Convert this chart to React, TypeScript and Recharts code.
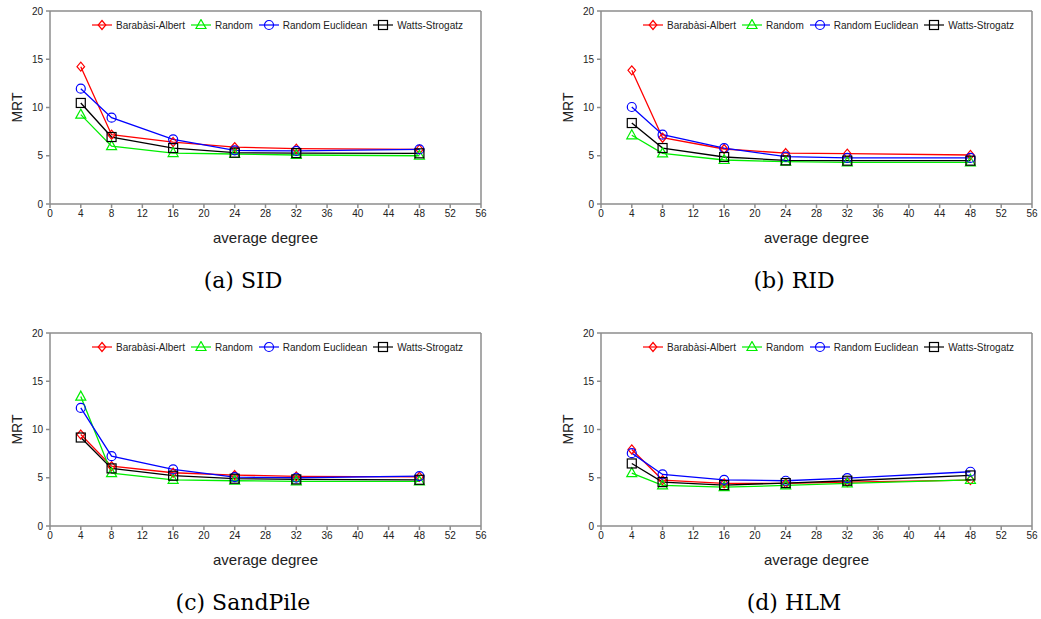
import React from "react";
import { LineChart, Line, XAxis, YAxis, ReferenceLine } from "recharts";

const degrees = [4, 8, 16, 24, 32, 48];
const xTicks = [0, 4, 8, 12, 16, 20, 24, 28, 32, 36, 40, 44, 48, 52, 56];
const yTicks = [0, 5, 10, 15, 20];

// (a) SID
const sidBarabasi = [14.23, 7.18, 6.42, 5.9, 5.73, 5.66];
const sidRandom = [9.26, 6.0, 5.28, 5.18, 5.08, 5.0];
const sidEuclid = [11.95, 8.95, 6.7, 5.56, 5.5, 5.66];
const sidWatts = [10.47, 6.94, 5.8, 5.32, 5.28, 5.25];

// (b) RID
const ridBarabasi = [13.85, 6.87, 5.7, 5.28, 5.22, 5.08];
const ridRandom = [7.12, 5.25, 4.56, 4.39, 4.32, 4.32];
const ridEuclid = [10.05, 7.18, 5.8, 4.9, 4.77, 4.77];
const ridWatts = [8.39, 5.8, 4.87, 4.52, 4.49, 4.49];

// (c) SandPile
const sandBarabasi = [9.48, 6.2, 5.52, 5.28, 5.14, 5.1];
const sandRandom = [13.41, 5.48, 4.79, 4.69, 4.62, 4.62];
const sandEuclid = [12.24, 7.24, 5.86, 5.07, 5.0, 5.17];
const sandWatts = [9.17, 5.97, 5.21, 4.9, 4.83, 4.79];

// (d) HLM
const hlmBarabasi = [7.93, 4.76, 4.41, 4.41, 4.55, 4.76];
const hlmRandom = [5.48, 4.2, 4.03, 4.2, 4.41, 4.79];
const hlmEuclid = [7.55, 5.34, 4.79, 4.69, 4.97, 5.62];
const hlmWatts = [6.48, 4.55, 4.24, 4.45, 4.69, 5.24];

const SANS = "'Liberation Sans', Arial, sans-serif";
const AXIS = "#8c8c8c";

const series = [
  { key: "ba", name: "Barabàsi-Albert", color: "#ff0000", shape: "diamond" },
  { key: "rnd", name: "Random", color: "#00ee00", shape: "triangle" },
  { key: "re", name: "Random Euclidean", color: "#0000ff", shape: "circle" },
  { key: "ws", name: "Watts-Strogatz", color: "#000000", shape: "square" },
];

function build(ba: number[], rnd: number[], re: number[], ws: number[]) {
  return degrees.map((d, i) => ({ deg: d, ba: ba[i], rnd: rnd[i], re: re[i], ws: ws[i] }));
}

function Marker({ shape, cx, cy, color }: { shape: string; cx: number; cy: number; color: string }) {
  const common = { fill: "none", stroke: color, strokeWidth: 1.2 };
  if (shape === "diamond")
    return <polygon points={`${cx},${cy - 4.5} ${cx + 3.8},${cy} ${cx},${cy + 4.5} ${cx - 3.8},${cy}`} {...common} />;
  if (shape === "triangle")
    return <polygon points={`${cx},${cy - 5.5} ${cx + 5},${cy + 3.5} ${cx - 5},${cy + 3.5}`} {...common} />;
  if (shape === "circle") return <circle cx={cx} cy={cy} r={4.5} {...common} />;
  return <rect x={cx - 4.5} y={cy - 4.5} width={9} height={9} {...common} />;
}

function LegendRow() {
  return (
    <div style={{ display: "flex", alignItems: "center", fontFamily: SANS, fontSize: 10, color: "#222" }}>
      {series.map((s) => (
        <div key={s.key} style={{ display: "flex", alignItems: "center", marginRight: 6 }}>
          <svg width={20} height={12} style={{ marginRight: 4 }}>
            <line x1={0} y1={6} x2={20} y2={6} stroke={s.color} strokeWidth={1.2} />
            <Marker shape={s.shape} cx={10} cy={6} color={s.color} />
          </svg>
          <span>{s.name}</span>
        </div>
      ))}
    </div>
  );
}

function Panel({ data, left, top, caption }: { data: any[]; left: number; top: number; caption: string }) {
  return (
    <div style={{ position: "absolute", left, top, width: 520, height: 300 }}>
      <LineChart width={520} height={250} data={data} margin={{ top: 11, right: 39, left: 0, bottom: 0 }}>
        <XAxis
          dataKey="deg"
          type="number"
          domain={[0, 56]}
          ticks={xTicks}
          interval={0}
          stroke={AXIS}
          strokeWidth={1.5}
          tickSize={4}
          tickMargin={2}
          height={46}
          tick={{ fill: "#222", fontSize: 10, fontFamily: SANS }}
          label={({ viewBox }: any) => (
            <text
              x={viewBox.x + viewBox.width / 2}
              y={viewBox.y + 39}
              textAnchor="middle"
              fontFamily={SANS}
              fontSize={15}
              fill="#222"
            >
              average degree
            </text>
          )}
        />
        <YAxis
          domain={[0, 20]}
          ticks={yTicks}
          interval={0}
          stroke={AXIS}
          strokeWidth={1.5}
          tickSize={4}
          tickMargin={3}
          width={50}
          tick={{ fill: "#222", fontSize: 10, fontFamily: SANS }}
          label={({ viewBox }: any) => (
            <text
              x={viewBox.x + 22}
              y={viewBox.y + viewBox.height / 2}
              textAnchor="middle"
              fontFamily={SANS}
              fontSize={14}
              fill="#222"
              transform={`rotate(-90 ${viewBox.x + 22} ${viewBox.y + viewBox.height / 2})`}
            >
              MRT
            </text>
          )}
        />
        <ReferenceLine y={20} stroke={AXIS} strokeWidth={1.5} />
        <ReferenceLine x={56} stroke={AXIS} strokeWidth={1.5} />
        {series.map((s) => (
          <Line
            key={s.key}
            dataKey={s.key}
            name={s.name}
            stroke={s.color}
            strokeWidth={1.3}
            type="linear"
            isAnimationActive={false}
            dot={(p: any) => <Marker key={`${s.key}-${p.index}`} shape={s.shape} cx={p.cx} cy={p.cy} color={s.color} />}
            activeDot={false}
          />
        ))}
      </LineChart>
      <div style={{ position: "absolute", left: 92, top: 19 }}>
        <LegendRow />
      </div>
      <div
        style={{
          position: "absolute",
          left: 0,
          width: 486,
          top: 268,
          textAlign: "center",
          fontFamily: "'DejaVu Serif', serif",
          fontSize: 22,
          color: "#000",
        }}
      >
        {caption}
      </div>
    </div>
  );
}

export default function App() {
  return (
    <div style={{ position: "absolute", left: 0, top: 0, width: 1041, height: 619, background: "#fff", overflow: "hidden" }}>
      <Panel data={build(sidBarabasi, sidRandom, sidEuclid, sidWatts)} left={0} top={0} caption="(a) SID" />
      <Panel data={build(ridBarabasi, ridRandom, ridEuclid, ridWatts)} left={551} top={0} caption="(b) RID" />
      <Panel data={build(sandBarabasi, sandRandom, sandEuclid, sandWatts)} left={0} top={322} caption="(c) SandPile" />
      <Panel data={build(hlmBarabasi, hlmRandom, hlmEuclid, hlmWatts)} left={551} top={322} caption="(d) HLM" />
    </div>
  );
}
